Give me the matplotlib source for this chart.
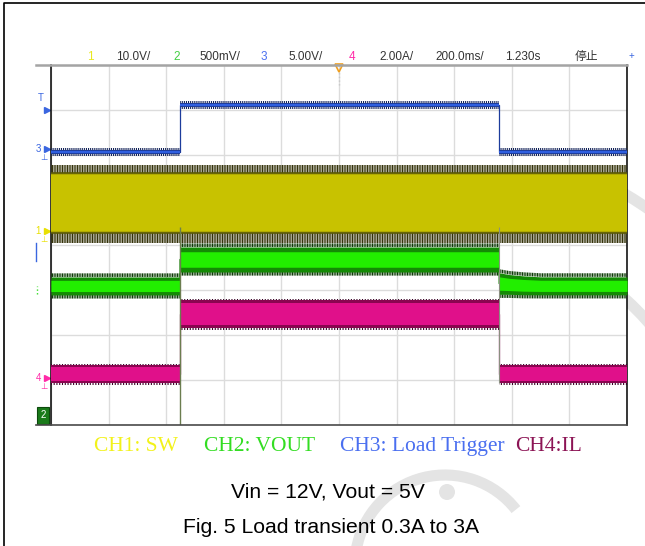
import matplotlib.pyplot as plt
from matplotlib.patches import Arc, Circle
from matplotlib.transforms import blended_transform_factory

plt.rcParams['font.family'] = ['Liberation Sans', 'DejaVu Sans']
plt.rcParams['hatch.linewidth'] = 0.8

# scope header
ch_nums = ["1", "2", "3", "4"]
ch_scales = ["10.0V/", "500mV/", "5.00V/", "2.00A/"]
timebase = "200.0ms/"
trig_time = "1.230s"
run_state = "停止"

# volts (or amps) per division, and ground marker offset in divisions
ch1_scale, ch2_scale, ch3_scale, ch4_scale = 10.0, 500.0, 5.0, 2.0
ch1_off, ch2_off, ch3_off, ch4_off = 0.31, -1.0, 2.13, -2.96
trig_level = 4.3  # V on CH3

# load step at 448 ms (up) and 1556 ms (down)
t_ms = [0, 448, 448, 1556, 1556, 2000]
ch3_v = [-0.3, -0.3, 4.9, 4.9, -0.3, -0.3]
ch3_pp = [0.45] * 6
ch4_a = [0.18, 0.18, 2.84, 2.84, 0.18, 0.18]
ch4_pp = [0.8, 0.8, 1.24, 1.24, 0.8, 0.8]
ch1_lo, ch1_hi = -0.4, 12.9        # switching node, V
ch1_min, ch1_max = -2.7, 14.7      # ringing peaks, V
ch2_t = [0, 448, 448, 1556, 1556, 1590, 1640, 1700, 2000]
ch2_mv = [45, 45, 339, 339, 72, 62, 52, 46, 46]
ch2_pp = [200, 200, 278, 278, 240, 220, 210, 200, 200]

legend = ["CH1: SW", "CH2: VOUT", "CH3: Load Trigger", "CH4:IL"]
legend_col = ["#f2f21a", "#33dd22", "#4a6ff0", "#8c1455"]
caption1 = "Vin = 12V, Vout = 5V"
caption2 = "Fig. 5 Load transient 0.3A to 3A"


def to_div(vals, scale, off):
    return [off + v / scale for v in vals]


def band(ax, x, mid, pp, core, edge, spike, spike_w, inner=0.6, z=3, dens=7):
    lo = [m - p / 2 for m, p in zip(mid, pp)]
    hi = [m + p / 2 for m, p in zip(mid, pp)]
    ilo = [m - p * inner / 2 for m, p in zip(mid, pp)]
    ihi = [m + p * inner / 2 for m, p in zip(mid, pp)]
    if spike_w > 0:
        ax.fill_between(x, hi, [h + spike_w for h in hi], facecolor='none',
                        edgecolor=spike, hatch='|' * dens, lw=0, zorder=z)
        ax.fill_between(x, [l - spike_w for l in lo], lo, facecolor='none',
                        edgecolor=spike, hatch='|' * dens, lw=0, zorder=z)
    ax.plot(x, mid, color=edge, lw=0.9, zorder=z)
    ax.fill_between(x, lo, hi, color=edge, lw=0, zorder=z + 0.1)
    ax.fill_between(x, ilo, ihi, color=core, lw=0, zorder=z + 0.2)


fig = plt.figure(figsize=(6.45, 5.46), dpi=100)

# watermark behind everything
bg = fig.add_axes([0, 0, 1, 1], zorder=0)
bg.set_xlim(0, 645)
bg.set_ylim(546, 0)
bg.axis('off')
wm = '#e4e4e4'
bg.add_patch(Arc((445, 565), 180, 180, theta1=190, theta2=322, color=wm, lw=8))
bg.add_patch(Circle((447, 492), 8, color=wm, lw=0))
bg.add_patch(Arc((445, 500), 540, 540, theta1=290, theta2=335, color=wm, lw=8))
bg.add_patch(Arc((445, 500), 710, 710, theta1=290, theta2=325, color=wm, lw=8))

# scope screen
ax = fig.add_axes([51 / 645, 121 / 546, 576 / 645, 360 / 546], zorder=1)
ax.set_facecolor('white')
ax.set_xlim(0, 2000)
ax.set_ylim(-4, 4)
ax.set_xticks(range(0, 2001, 200))
ax.set_yticks(range(-4, 5))
ax.grid(color='#dcdcdc', lw=1)
ax.set_axisbelow(True)
ax.tick_params(length=0, labelleft=False, labelbottom=False)
for s in ['top', 'bottom']:
    ax.spines[s].set_visible(False)
for s in ['left', 'right']:
    ax.spines[s].set_color('black')
    ax.spines[s].set_linewidth(1.1)

# CH1 switching node
n = len(t_ms)
band(ax, t_ms, [ch1_off + (ch1_lo + ch1_hi) / 2 / ch1_scale] * n,
     [(ch1_hi - ch1_lo) / ch1_scale] * n, '#c8c200', '#b0aa00', '#3d3a08', 0,
     inner=0.94, z=3)
ax.fill_between(t_ms, [ch1_off + ch1_hi / ch1_scale] * n, [ch1_off + ch1_max / ch1_scale] * n,
                facecolor='none', edgecolor='#35330a', hatch='|' * 10, lw=0, zorder=3)
ax.fill_between(t_ms, [ch1_off + ch1_min / ch1_scale] * n, [ch1_off + ch1_lo / ch1_scale] * n,
                facecolor='none', edgecolor='#35330a', hatch='|' * 10, lw=0, zorder=3)
ax.plot(t_ms, [ch1_off + ch1_hi / ch1_scale] * n, color='#5a5808', lw=1.2, zorder=3.3)
ax.plot(t_ms, [ch1_off + ch1_lo / ch1_scale] * n, color='#5a5808', lw=1.2, zorder=3.3)

# CH2 output voltage
band(ax, ch2_t, to_div(ch2_mv, ch2_scale, ch2_off), [p / ch2_scale for p in ch2_pp],
     '#22ee00', '#148a05', '#0f3d08', 0.08, inner=0.62, z=4, dens=10)

# CH3 load trigger
band(ax, t_ms, to_div(ch3_v, ch3_scale, ch3_off), [p / ch3_scale for p in ch3_pp],
     '#2f5fe0', '#1d3c9c', '#14245a', 0.04, inner=0.6, z=5, dens=8)

# CH4 inductor current
band(ax, t_ms, to_div(ch4_a, ch4_scale, ch4_off), [p / ch4_scale for p in ch4_pp],
     '#e0108a', '#8a0550', '#3a0025', 0.03, inner=0.78, z=4, dens=6)

# edge lines at the load steps
ch1_bot = ch1_off + 1.0 / ch1_scale
ax.vlines(t_ms[1], -4, ch1_bot, color='#6b7d4f', lw=1, zorder=6)
ax.vlines(t_ms[3], ch4_off + (ch4_a[0] - ch4_pp[0] / 2) / ch4_scale, ch1_bot,
          color='#8a8f80', lw=0.8, zorder=6)

# trigger position marker
ax.plot([1000], [3.93], marker='v', ms=6, mfc='none', mec='#f0a020', mew=1.2,
        clip_on=False, zorder=7)
ax.vlines(1000, 3.55, 3.85, color='#c8c8c8', lw=1, linestyles=':', zorder=7)

# channel markers left of the screen
bt = blended_transform_factory(ax.transAxes, ax.transData)
marks = [("T", ch3_off + trig_level / ch3_scale, '#3a66e0'),
         ("3", ch3_off, '#3a66e0'),
         ("1", ch1_off, '#e8e000'),
         ("4", ch4_off, '#ff2aa8')]
for lab, yv, col in marks:
    ax.plot([-0.007], [yv], marker='>', ms=4, color=col, transform=bt, clip_on=False)
    dy = 0.28 if lab == "T" else 0
    ax.text(-0.018 if lab == "T" else -0.022, yv + dy, lab, color=col, fontsize=7,
            ha='center', va='center', transform=bt, clip_on=False)
    if lab != "T":
        ax.text(-0.013, yv - 0.2, "⊥", color=col, fontsize=6, ha='center', va='center',
                transform=bt, clip_on=False)
ax.plot([-0.025, -0.025], [ch2_off - 0.08, ch2_off + 0.08], ls=':', color='#33dd22',
        lw=1, transform=bt, clip_on=False)
ax.plot([-0.026, -0.026], [0.05, -0.35], color='#3a66e0', lw=1, transform=bt, clip_on=False)
ax.text(-0.014, -3.78, "2", color='white', fontsize=7, ha='center', va='center',
        transform=bt, clip_on=False,
        bbox=dict(boxstyle='square,pad=0.35', fc='#1a7a1a', ec='#0c4a0c', lw=0.8))

# frame, header and captions
fg = fig.add_axes([0, 0, 1, 1], zorder=5)
fg.set_xlim(0, 645)
fg.set_ylim(546, 0)
fg.axis('off')
fg.plot([4, 4, 645], [546, 3, 3], color='black', lw=1.2)
fg.plot([36, 627], [65, 65], color='#a4a4a4', lw=1.8)
fg.plot([36, 627], [425, 425], color='#4a4a4a', lw=1.2)

num_cols = ['#e8e820', '#44d044', '#4a6ff0', '#ff2aa8']
num_x = [90, 177, 264, 352]
scale_x = [133, 220, 306, 396]
for i in range(4):
    fg.text(num_x[i], 60, ch_nums[i], color=num_cols[i], fontsize=8.5, ha='center', va='baseline')
    fg.text(scale_x[i], 60, ch_scales[i], color='#333333', fontsize=8.5, ha='center', va='baseline')
fg.text(460, 60, timebase, color='#333333', fontsize=8.5, ha='center', va='baseline')
fg.text(523, 60, trig_time, color='#333333', fontsize=8.5, ha='center', va='baseline')
fg.text(586, 60, run_state, color='#333333', fontsize=8.5, ha='center', va='baseline',
        family=['Noto Sans CJK SC', 'DejaVu Sans'])
fg.text(631, 59, "+", color='#3a66e0', fontsize=7, ha='center', va='baseline')

leg_x = [136, 260, 422, 549]
for x, s, c in zip(leg_x, legend, legend_col):
    fg.text(x, 451, s, color=c, fontsize=15.5, ha='center', va='baseline',
            family=['Liberation Serif', 'DejaVu Serif'])

fg.text(328, 498, caption1, fontsize=15.2, ha='center', va='baseline', color='black')
fg.text(331, 533, caption2, fontsize=15.2, ha='center', va='baseline', color='black')

fig.savefig('out.png', dpi=100)
